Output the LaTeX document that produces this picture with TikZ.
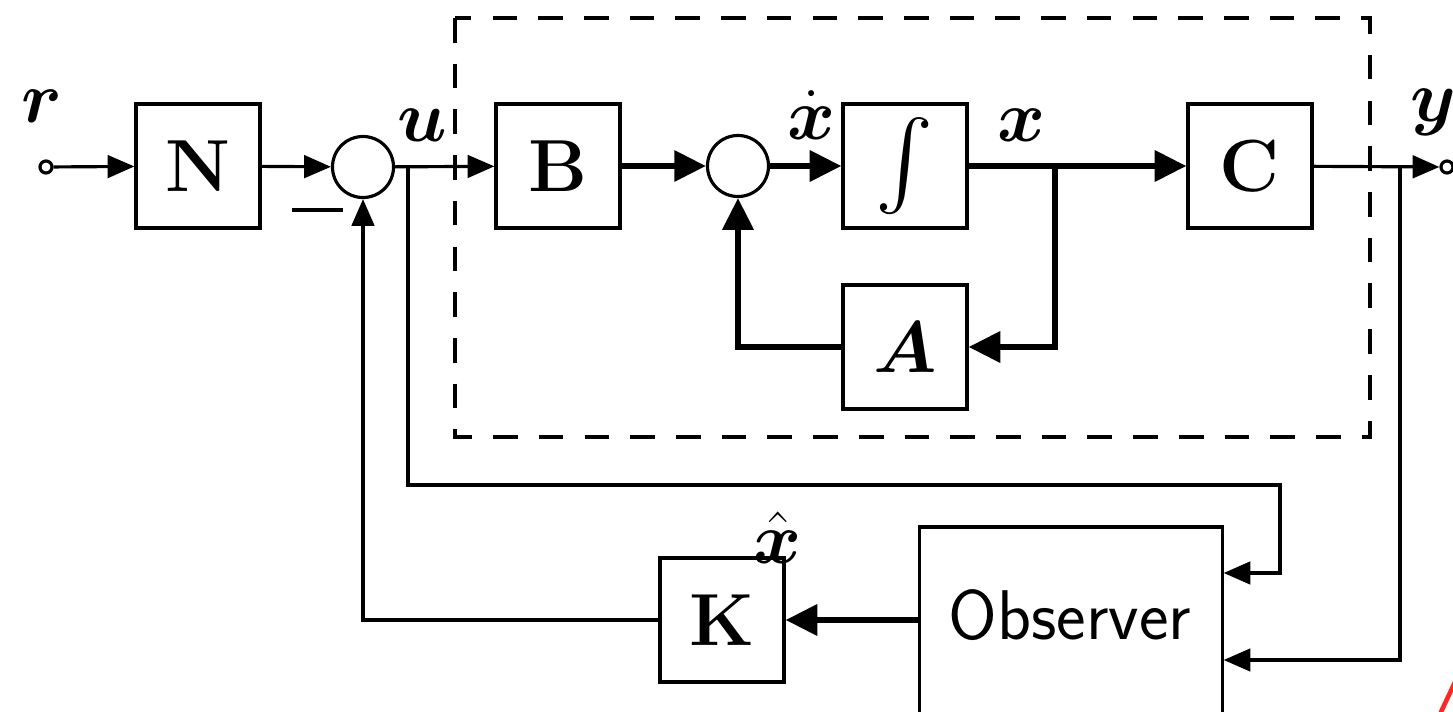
\documentclass[tikz,border=0pt]{standalone}
\usepackage{amsmath}
\usetikzlibrary{arrows.meta}
\begin{document}
\begin{tikzpicture}[x=0.01cm,y=-0.01cm,
  blk/.style={draw, line width=0.9pt, minimum width=1.24cm, minimum height=1.24cm, inner sep=0pt, font=\fontsize{21}{25}\selectfont\bfseries},
  sumc/.style={draw, circle, line width=0.9pt, minimum size=0.61cm, inner sep=0pt},
  wire/.style={line width=0.9pt},
  bus/.style={line width=1.7pt},
  tarr/.style={wire, -{Triangle[length=7.6pt,width=6.4pt]}},
  Tarr/.style={bus, -{Triangle[length=9pt,width=8.6pt]}},
  lab/.style={font=\fontsize{22}{26}\selectfont, inner sep=0pt},
  port/.style={draw, circle, line width=0.9pt, minimum size=0.12cm, inner sep=0pt}
]
\path[use as bounding box] (0,0) rectangle (1453,712);
\clip (0,0) rectangle (1453,712);

% plant boundary
\draw[line width=0.9pt, dash pattern=on 7pt off 6pt] (455,18) rectangle (1370,437);

% nodes
\node[port] (rc) at (46,167) {};
\node[blk] (N) at (198,166) {N};
\node[sumc] (s1) at (363,167) {};
\node[blk] (B) at (558,166) {B};
\node[sumc] (s2) at (738,166) {};
\node[blk] (integ) at (905,166) {\fontsize{23}{27}\selectfont$\int$};
\node[blk] (amat) at (905,347) {$\boldsymbol{A}$};
\node[blk] (C) at (1250,166) {C};
\node[port] (yc) at (1447,167) {};
\node[blk] (K) at (722,620) {K};
\node[draw, line width=0.9pt, minimum width=3.02cm, minimum height=2.5cm, inner sep=0pt] (obs) at (1071,652) {};
\node[font=\fontsize{20}{24}\selectfont\sffamily] (obstext) at (1070,615) {Observer};

% labels
\node[lab] (lr) at (42,106) {$\boldsymbol{r}$};
\node[lab] (lu) at (422,125) {$\boldsymbol{u}$};
\node[lab] (lxd) at (812,115) {$\dot{\boldsymbol{x}}$};
\node[lab] (lx) at (1022,125) {$\boldsymbol{x}$};
\node[lab] (ly) at (1433,112) {$\boldsymbol{y}$};
\node[lab] (lxh) at (778,538) {$\hat{\boldsymbol{x}}$};
\draw[wire] (292,210) -- (343,210);

% junction coordinates
\coordinate (ub) at (408,167);
\coordinate (uc) at (1280,485);
\coordinate (uin) at (1280,573);
\coordinate (xb) at (1055,167);
\coordinate (yb) at (1400,167);
\coordinate (yin) at (1400,660);

% connectors
\draw[tarr] (rc) -- (N);
\draw[tarr] (N) -- (s1);
\draw[tarr] (s1) -- (B);
\draw[Tarr] (B) -- (s2);
\draw[Tarr] (s2) -- (integ);
\draw[Tarr] (integ) -- (C);
\draw[Tarr] (xb) |- (amat.east);
\draw[Tarr] (amat.west) -| (s2.south);
\draw[tarr] (C) -- (yc);
\draw[tarr] (ub) |- (uc) -- (uin) -- (obs.east |- uin);
\draw[tarr] (yb) -- (yin) -- (obs.east |- yin);
\draw[Tarr] (obs.west |- K.east) -- (K.east);
\draw[tarr] (K.west) -| (s1.south);

% red mark
\draw[red!85!white, line width=1.3pt, line cap=round] (1441,712) -- (1456,680);
\end{tikzpicture}
\end{document}
